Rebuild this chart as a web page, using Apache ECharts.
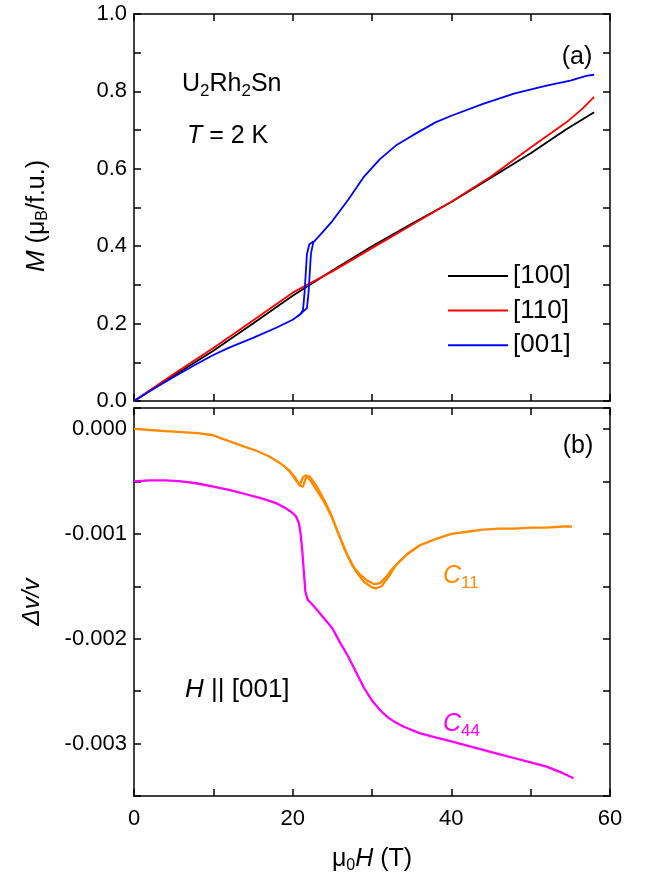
<!DOCTYPE html>
<html>
<head>
<meta charset="utf-8">
<script src="https://cdn.jsdelivr.net/npm/echarts@6/dist/echarts.min.js"></script>
<style>html,body{margin:0;padding:0;background:#fff}#c{width:657px;height:885px}</style>
</head>
<body>
<div id="c"></div>
<script>
// ---- Panel (a): magnetization M (muB/f.u.) vs field (T) ----
const x100 = [0, 2, 5, 10, 15, 20, 25, 30, 35, 40, 45, 50, 54.5, 58];
const m100 = [0, 0.026, 0.065, 0.13, 0.2, 0.272, 0.337, 0.4, 0.458, 0.514, 0.577, 0.64, 0.702, 0.746];

const x110 = [0, 2, 5, 10, 15, 20, 25, 30, 35, 40, 45, 50, 54.5, 56.5, 58];
const m110 = [0, 0.028, 0.07, 0.137, 0.208, 0.28, 0.335, 0.395, 0.455, 0.515, 0.58, 0.655, 0.72, 0.755, 0.786];

const x001up = [0, 2, 5, 8, 10, 12, 15, 18, 20, 21, 21.8, 22.0, 22.3, 22.6, 23.5, 25, 27, 29, 31, 33, 35, 38, 40, 44, 48, 52, 55, 57, 58];
const m001up = [0, 0.026, 0.062, 0.097, 0.119, 0.138, 0.163, 0.19, 0.21, 0.225, 0.24, 0.28, 0.38, 0.41, 0.43, 0.465, 0.52, 0.58, 0.625, 0.66, 0.685, 0.72, 0.737, 0.768, 0.795, 0.815, 0.828, 0.84, 0.843];

const x001dn = [20.6, 21.0, 21.3, 21.5, 21.8, 22.1, 22.6];
const m001dn = [0.218, 0.225, 0.235, 0.28, 0.38, 0.405, 0.412];

// ---- Panel (b): relative sound velocity change vs field (T) ----
const xC11 = [0, 2, 4, 6, 8, 10, 11, 12.5, 14, 15.5, 17, 18.5, 19.5, 20.3, 20.9, 21.3, 21.7, 22.1, 22.6, 23.2, 24, 24.8, 25.6, 26.5, 27.5, 28.5, 29.5, 30.3, 31, 31.8, 32.6, 33.5, 34.5, 36, 38, 40, 42, 44, 46, 48, 50, 52, 54, 55.2];
const vC11 = [0, -0.00001, -0.00002, -0.00003, -0.00004, -0.00006, -0.00009, -0.00013, -0.00017, -0.00021, -0.00026, -0.00033, -0.00039, -0.00046, -0.00054, -0.00055, -0.00046, -0.00045, -0.0005, -0.00057, -0.00068, -0.00081, -0.00097, -0.00114, -0.0013, -0.00139, -0.00145, -0.00148, -0.00147, -0.00141, -0.00133, -0.00126, -0.00119, -0.00111, -0.00105, -0.001, -0.00098, -0.00096, -0.00095, -0.00095, -0.00094, -0.00094, -0.00093, -0.00093];

const xC11b = [19, 19.8, 20.5, 20.9, 21.3, 21.7, 22.3, 23, 24, 25, 26, 27, 28, 29, 30, 30.5, 31.2, 32, 33, 34.5, 36];
const vC11b = [-0.00036, -0.00042, -0.0005, -0.00053, -0.00046, -0.00044, -0.0005, -0.00058, -0.0007, -0.00085, -0.00104, -0.00122, -0.00136, -0.00146, -0.00151, -0.00152, -0.0015, -0.00142, -0.0013, -0.00119, -0.00111];

const xC44 = [0, 2, 4, 6, 8, 10, 12, 14, 16, 18, 19, 19.8, 20.4, 20.8, 21.0, 21.2, 21.4, 21.6, 21.9, 22.3, 23, 24, 25, 26, 27, 28, 29, 30, 31, 32, 33, 34, 36, 38, 40, 42, 44, 46, 48, 50, 52, 54, 55.4];
const vC44 = [-0.0005, -0.00049, -0.00049, -0.0005, -0.00052, -0.00055, -0.00058, -0.00062, -0.00066, -0.00071, -0.00075, -0.00079, -0.00083, -0.0009, -0.001, -0.00115, -0.00135, -0.00155, -0.00163, -0.00166, -0.00172, -0.00181, -0.0019, -0.00204, -0.00217, -0.00232, -0.00247, -0.00259, -0.00268, -0.00275, -0.0028, -0.00284, -0.0029, -0.00294, -0.00298, -0.00302, -0.00306, -0.0031, -0.00314, -0.00318, -0.00322, -0.00328, -0.00333];

const legendNames = ['[100]', '[110]', '[001]'];

function pairs(xs, ys) { return xs.map((x, i) => [x, ys[i]]); }

const FONT = 'Liberation Sans, Arial, sans-serif';
const axisLine = { show: true, onZero: false, lineStyle: { color: '#000', width: 1.5 } };
const tick = { show: true, inside: true, length: 7, lineStyle: { color: '#000', width: 1.5 } };

function xAx(gridIndex, position, showLabel) {
  return {
    type: 'value', gridIndex, position, min: 0, max: 60, interval: 10,
    axisLine, axisTick: tick, splitLine: { show: false },
    axisLabel: {
      show: showLabel, color: '#000', fontSize: 22, fontFamily: FONT, margin: 12,
      formatter: v => (Math.round(v) % 20 === 0 ? String(Math.round(v)) : '')
    }
  };
}
function yAx(gridIndex, position, min, max, interval, showLabel, fmt) {
  return {
    type: 'value', gridIndex, position, min, max, interval,
    axisLine, axisTick: tick, splitLine: { show: false },
    axisLabel: { show: showLabel, color: '#000', fontSize: 22, fontFamily: FONT, margin: 7, formatter: fmt }
  };
}
const fmtM = v => (Math.round(v * 10) % 2 === 0 ? v.toFixed(1) : '');
const fmtV = v => {
  const k = Math.round(v * 1e4);
  if (k % 10 !== 0) return '';
  if (k === 0) return '0.000';
  return (k / 1e4).toFixed(3);
};

function line(name, xs, ys, color, xi, yi, w) {
  return {
    type: 'line', name, data: pairs(xs, ys), xAxisIndex: xi, yAxisIndex: yi,
    showSymbol: false, symbol: 'none', smooth: false,
    lineStyle: { color, width: w }, itemStyle: { color }, z: 3
  };
}

const ORANGE = '#ff8a00';
const MAGENTA = '#ff00ff';

// rich styles: normal token, italic token, subscript token (lowered with top padding)
const nrm = (size, c) => ({ fontSize: size, fontFamily: FONT, lineHeight: size + 2, fill: c || '#000' });
const ita = (size, c) => ({ fontSize: size, fontFamily: FONT, fontStyle: 'italic', lineHeight: size + 2, fill: c || '#000' });
const sub = (size, drop, c) => ({ fontSize: size, fontFamily: FONT, lineHeight: size, padding: [drop, 0, 0, 0], verticalAlign: 'top', fill: c || '#000' });

function txt(x, y, text, rich, opts) {
  return {
    type: 'text', x, y, z: 10,
    style: Object.assign({ text, rich, fontSize: 25, fontFamily: FONT, fill: '#000', textAlign: 'left', textVerticalAlign: 'middle' }, opts || {})
  };
}

const option = {
  animation: false,
  backgroundColor: '#fff',
  textStyle: { fontFamily: FONT },
  grid: [
    { left: 134, right: 47, top: 14, height: 387 },
    { left: 134, right: 47, top: 408, height: 388 }
  ],
  xAxis: [xAx(0, 'bottom', false), xAx(0, 'top', false), xAx(1, 'bottom', true), xAx(1, 'top', false)],
  yAxis: [
    yAx(0, 'left', 0, 1, 0.1, true, fmtM),
    yAx(0, 'right', 0, 1, 0.1, false, fmtM),
    yAx(1, 'left', -0.0035, 0.0002, 0.0005, true, fmtV),
    yAx(1, 'right', -0.0035, 0.0002, 0.0005, false, fmtV)
  ],
  legend: {
    data: legendNames, orient: 'vertical', left: 443, top: 258,
    icon: 'rect', itemWidth: 60, itemHeight: 2, itemGap: 8.6,
    textStyle: { fontSize: 26, fontFamily: FONT, color: '#000', lineHeight: 26 },
    selectedMode: false
  },
  series: [
    line('[100]', x100, m100, '#000000', 0, 0, 1.8),
    line('[110]', x110, m110, '#ff0000', 0, 0, 1.8),
    line('[001]', x001up, m001up, '#0000ff', 0, 0, 1.8),
    line('[001]', x001dn, m001dn, '#0000ff', 0, 0, 1.8),
    line('C11', xC11, vC11, ORANGE, 2, 2, 2.3),
    line('C11b', xC11b, vC11b, ORANGE, 2, 2, 2.3),
    line('C44', xC44, vC44, MAGENTA, 2, 2, 2.3)
  ],
  graphic: [
    txt(577, 57, '(a)', null, { textAlign: 'center' }),
    txt(182, 84, '{n|U}{s|2}{n|Rh}{s|2}{n|Sn}', { n: nrm(25), s: sub(17, 12) }),
    txt(187, 136, '{i|T}{n| = 2 K}', { i: ita(25), n: nrm(25) }),
    txt(578, 446, '(b)', null, { textAlign: 'center' }),
    txt(443, 576, '{i|C}{s|11}', { i: ita(25, ORANGE), s: sub(17, 12, ORANGE) }, { fill: ORANGE }),
    txt(443, 724, '{i|C}{s|44}', { i: ita(25, MAGENTA), s: sub(17, 12, MAGENTA) }, { fill: MAGENTA }),
    txt(185, 690, '{i|H}{n| || [001]}', { i: ita(26), n: nrm(26) }),
    {
      type: 'text', x: 37, y: 216, rotation: Math.PI / 2, z: 10,
      style: {
        text: '{i|M}{n| (μ}{s|B}{n|/f.u.)}', fontSize: 25, fontFamily: FONT, fill: '#000',
        textAlign: 'center', textVerticalAlign: 'middle',
        rich: { i: ita(26), n: nrm(25), s: sub(16, 12) }
      }
    },
    {
      type: 'text', x: 32, y: 602, rotation: Math.PI / 2, z: 10,
      style: {
        text: 'Δv/v', fontSize: 24, fontStyle: 'italic', fontFamily: FONT, fill: '#000',
        textAlign: 'center', textVerticalAlign: 'middle'
      }
    },
    {
      type: 'text', x: 372, y: 859, z: 10,
      style: {
        text: '{n|μ}{s|0}{i|H}{n| (T)}', fontSize: 24, fontFamily: FONT, fill: '#000',
        textAlign: 'center', textVerticalAlign: 'middle',
        rich: { i: ita(25), n: nrm(25), s: sub(16, 12) }
      }
    }
  ]
};

const chart = echarts.init(document.getElementById('c'), null, { renderer: 'canvas' });
chart.setOption(option);
</script>
</body>
</html>
